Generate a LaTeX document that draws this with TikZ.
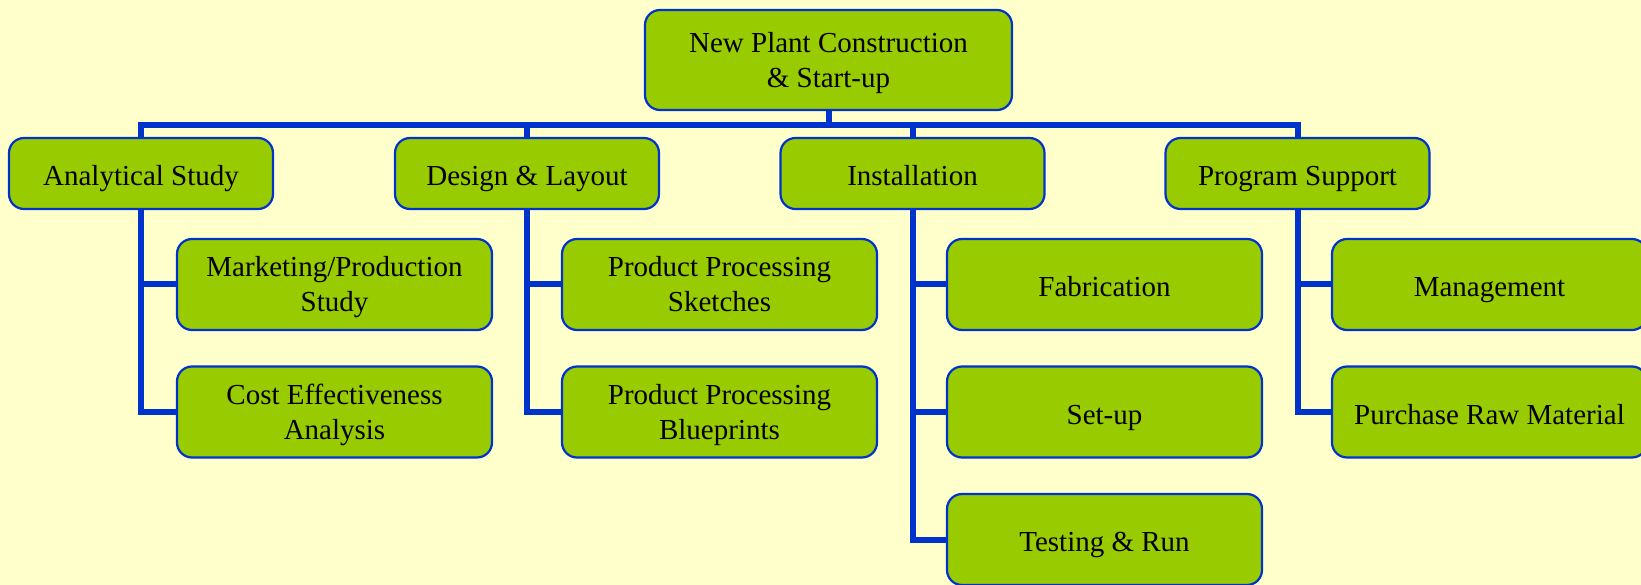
\documentclass[tikz,border=0pt]{standalone}
\usepackage{fontspec}
\setmainfont{Liberation Serif}
\definecolor{bgc}{HTML}{FFFFCC}
\definecolor{boxfill}{HTML}{99CC00}
\definecolor{lineblue}{HTML}{0033CC}
\newcommand{\mystrut}{\rule[-7pt]{0pt}{38pt}}
\newcommand{\topstrut}{\rule{0pt}{28pt}}
\newcommand{\botstrut}{\rule[-8.6pt]{0pt}{8.6pt}}
\begin{document}
\begin{tikzpicture}[x=1pt,y=-1pt,
  box/.style={draw=lineblue,line width=2.2pt,fill=boxfill,rounded corners=15pt,
    inner sep=0pt,align=center,font=\fontsize{29}{35}\selectfont,
    execute at begin node=\mystrut},
  topbox/.style={box,minimum width=367pt,minimum height=100pt},
  lvlone/.style={box,minimum width=264pt,minimum height=71pt},
  lvltwo/.style={box,minimum width=315pt,minimum height=91pt},
  conn/.style={draw=lineblue,line width=6pt}]
\useasboundingbox (0,0) rectangle (1641,585);
\fill[bgc] (0,0) rectangle (1641,585);
\coordinate (busL) at (141,125);
\coordinate (busR) at (1297.5,125);
\coordinate (topS) at (828.5,125);
\node[topbox] (top) at (828.5,60) {\topstrut New Plant Construction\\\& Start-up};
\node[lvlone] (a) at (141,173.5) {Analytical Study};
\node[lvlone] (d) at (527,173.5) {Design \& Layout};
\node[lvlone] (i) at (912.5,173.5) {Installation};
\node[lvlone] (p) at (1297.5,173.5) {Program Support};
\node[lvltwo] (a1) at (334.5,284.5) {\topstrut Marketing/Production\\Study\botstrut};
\node[lvltwo] (a2) at (334.5,412) {\topstrut Cost Effectiveness\\Analysis\botstrut};
\node[lvltwo] (d1) at (719.5,284.5) {\topstrut Product Processing\\Sketches\botstrut};
\node[lvltwo] (d2) at (719.5,412) {\topstrut Product Processing\\Blueprints\botstrut};
\node[lvltwo] (i1) at (1104.5,284.5) {Fabrication};
\node[lvltwo] (i2) at (1104.5,412) {Set-up};
\node[lvltwo] (i3) at (1104.5,539.5) {Testing \& Run};
\node[lvltwo] (p1) at (1489.5,284.5) {Management};
\node[lvltwo] (p2) at (1489.5,412) {Purchase Raw Material};
\path[conn] (top.south) -- (topS);
\path[conn,line cap=rect] (busL) -- (busR);
\foreach \n in {a,d,i,p} {\path[conn] (\n.north) -- (\n.north |- busL);}
\path[conn] (a.south) |- (a2.west);
\path[conn] (a.south |- a1.west) -- (a1.west);
\path[conn] (d.south) |- (d2.west);
\path[conn] (d.south |- d1.west) -- (d1.west);
\path[conn] (i.south) |- (i3.west);
\path[conn] (i.south |- i1.west) -- (i1.west);
\path[conn] (i.south |- i2.west) -- (i2.west);
\path[conn] (p.south) |- (p2.west);
\path[conn] (p.south |- p1.west) -- (p1.west);
\end{tikzpicture}
\end{document}
